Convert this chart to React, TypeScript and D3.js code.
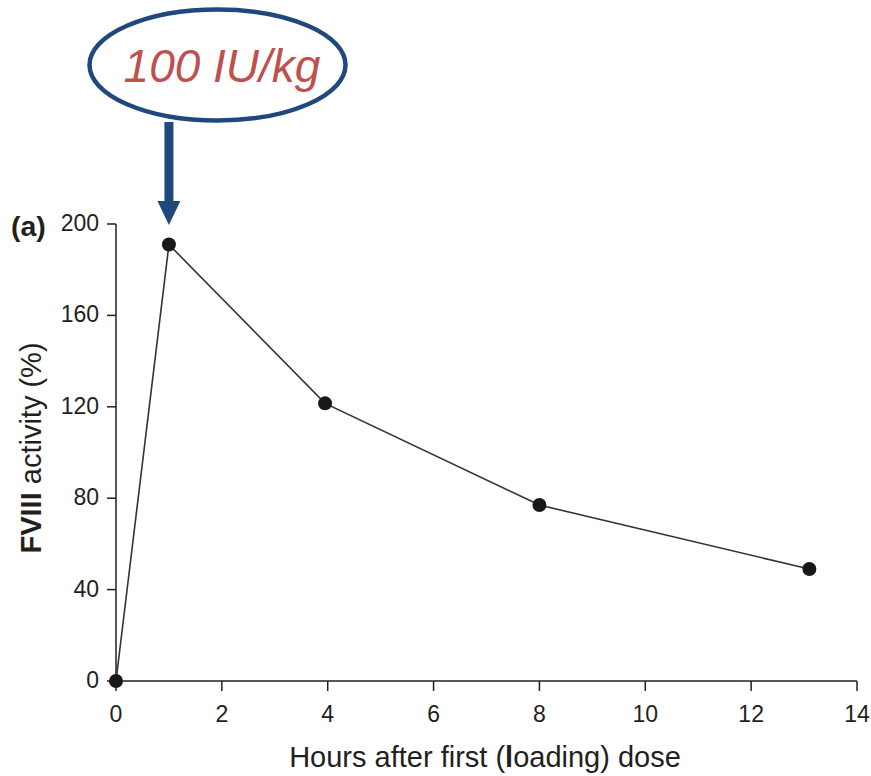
import React from "react";
import * as d3 from "d3";

const hours = [0, 1, 3.95, 8, 13.1];
const activity = [0, 191, 121.5, 77, 49];
const xTicks = [0, 2, 4, 6, 8, 10, 12, 14];
const yTicks = [0, 40, 80, 120, 160, 200];
const doseLabel = "100 IU/kg";
const panelLabel = "(a)";

const W = 871;
const H = 776;
const FONT = "'Liberation Sans', Arial, Helvetica, sans-serif";
const INK = "#231f20";

export default function App() {
  const x = d3.scaleLinear().domain([0, 14]).range([116, 857]);
  const y = d3.scaleLinear().domain([0, 200]).range([681, 224]);
  const pts = hours.map((h, i) => [h, activity[i]] as [number, number]);
  const line = d3
    .line<[number, number]>()
    .x((d) => x(d[0]))
    .y((d) => y(d[1]));

  const arrowX = x(hours[1]);
  const tipY = y(200) + 1;

  return (
    <svg
      width={W}
      height={H}
      style={{ position: "absolute", left: 0, top: 0, background: "#fff" }}
      fontFamily={FONT}
    >
      {/* axes */}
      <line x1={x(0)} x2={x(0)} y1={y(200)} y2={y(0)} stroke={INK} strokeWidth={1.5} />
      <line x1={x(0)} x2={x(14)} y1={y(0)} y2={y(0)} stroke={INK} strokeWidth={1.5} />
      {yTicks.map((t) => (
        <g key={"y" + t}>
          <line x1={x(0) - 9} x2={x(0)} y1={y(t)} y2={y(t)} stroke={INK} strokeWidth={1.5} />
          <text
            x={x(0) - 17}
            y={y(t) + 7}
            textAnchor="end"
            fontSize={23}
            fill={INK}
          >
            {t}
          </text>
        </g>
      ))}
      {xTicks.map((t) => (
        <g key={"x" + t}>
          <line x1={x(t)} x2={x(t)} y1={y(0)} y2={y(0) + 10} stroke={INK} strokeWidth={1.5} />
          <text x={x(t)} y={722} textAnchor="middle" fontSize={23} fill={INK}>
            {t}
          </text>
        </g>
      ))}

      {/* axis titles */}
      <text x={485} y={767} textAnchor="middle" fontSize={29} fill={INK}>
        Hours after first (<tspan fontWeight="bold">l</tspan>oading) dose
      </text>
      <text
        transform="translate(41,448) rotate(-90)"
        textAnchor="middle"
        fontSize={29}
        fill={INK}
      >
        <tspan fontWeight="bold">FVIII</tspan> activity (%)
      </text>
      <text x={11} y={236} fontSize={28.5} fontWeight="bold" fill={INK}>
        {panelLabel}
      </text>

      {/* data */}
      <path d={line(pts) || ""} fill="none" stroke="#333" strokeWidth={1.6} />
      {pts.map((p, i) => (
        <circle key={i} cx={x(p[0])} cy={y(p[1])} r={7} fill="#1a1718" />
      ))}

      {/* annotation */}
      <ellipse
        cx={217.5}
        cy={65}
        rx={128}
        ry={55.5}
        fill="#fff"
        stroke="#1f497d"
        strokeWidth={4.5}
      />
      <text
        x={222}
        y={82}
        textAnchor="middle"
        fontSize={46}
        fontStyle="italic"
        fill="#c0504d"
      >
        {doseLabel}
      </text>
      <rect x={arrowX - 4.5} y={122} width={9} height={82} fill="#1f497d" />
      <path
        d={`M${arrowX - 11.5},${tipY - 24} L${arrowX + 11.5},${tipY - 24} L${arrowX},${tipY} Z`}
        fill="#1f497d"
      />
    </svg>
  );
}
